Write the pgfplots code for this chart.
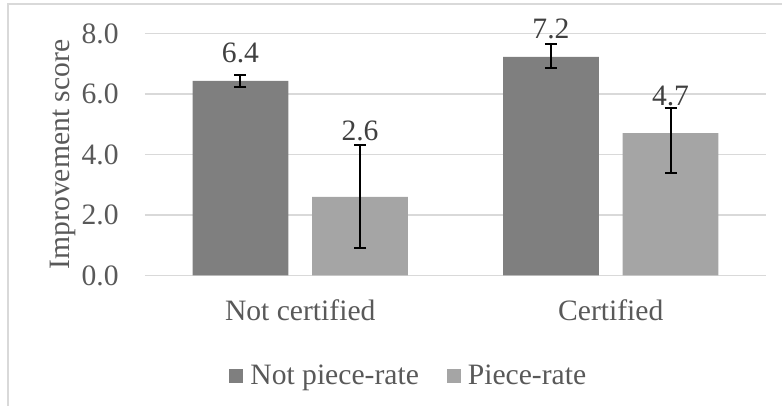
\documentclass[border=0pt]{standalone}
\usepackage{fontspec}
\setmainfont{Liberation Serif}
\usepackage{pgfplots}
\pgfplotsset{compat=1.18}
\definecolor{npr}{RGB}{127,127,127}
\definecolor{pr}{RGB}{165,165,165}
\definecolor{txt}{RGB}{89,89,89}
\definecolor{lbl}{RGB}{64,64,64}
\definecolor{gridc}{RGB}{217,217,217}
\newcommand{\fs}{\fontsize{14.8}{17.5}\selectfont}
\begin{document}
\begin{tikzpicture}
\useasboundingbox (-72.5pt,-65.25pt) rectangle (318.5pt,137.75pt);
\draw[gridc, line width=1pt] (-68.35pt,-80pt) -- (-68.35pt,135.5pt) -- (330pt,135.5pt);
\begin{axis}[
  at={(0,0)}, anchor=south west,
  width=310.5pt, height=121pt, scale only axis,
  clip=false,
  ybar,
  xmin=-0.5, xmax=1.5, ymin=0, ymax=8,
  ytick={0,2,4,6,8}, xtick={0,1}, xticklabels={Not certified, Certified},
  ymajorgrids, grid style={color=gridc, line width=0.9pt},
  axis line style={draw=none},
  major tick length=0pt,
  tick label style={font=\fs, text=txt},
  /pgf/number format/assume math mode=true,
  yticklabel style={/pgf/number format/fixed, /pgf/number format/fixed zerofill, /pgf/number format/precision=1, anchor=east, inner sep=0pt, xshift=-13pt},
  xticklabel style={anchor=base, inner sep=0pt, yshift=-22.5pt},
  ylabel={Improvement score},
  ylabel style={at={(axis description cs:-0.1329,0.5)}, anchor=center, font=\fs, text=txt},
  legend columns=2,
  legend image code/.code={\fill[#1] (0pt,-3.5pt) rectangle (7pt,3.5pt);},
  legend style={draw=none, fill=none, at={(axis description cs:0.1353,-0.417)}, anchor=west,
    font=\fs, text=txt, inner sep=0pt, nodes={inner sep=0pt},
    /tikz/every odd column/.append style={column sep=3.5pt},
    /tikz/every even column/.append style={column sep=14pt}},
]
\addplot[fill=npr, draw=none, bar width=0.309, bar shift=-0.1925,
  error bars/.cd, y dir=both, y explicit,
  error bar style={black, line width=1pt},
  error mark options={rotate=90, mark size=3pt, line width=1pt, black}]
  table[x=x, y=y, y error plus=ep, y error minus=em] {
x y ep em
0 6.43 0.21 0.21
1 7.23 0.41 0.38
};
\addlegendentry{Not piece-rate}
\addplot[fill=pr, draw=none, bar width=0.309, bar shift=0.1925,
  error bars/.cd, y dir=both, y explicit,
  error bar style={black, line width=1pt},
  error mark options={rotate=90, mark size=3pt, line width=1pt, black}]
  table[x=x, y=y, y error plus=ep, y error minus=em] {
x y ep em
0 2.60 1.70 1.70
1 4.71 0.82 1.31
};
\addlegendentry{Piece-rate}
\node[anchor=base, inner sep=0pt, font=\fs, text=lbl] at (axis cs:-0.1925,7.025) {6.4};
\node[anchor=base, inner sep=0pt, font=\fs, text=lbl] at (axis cs:0.1925,4.479) {2.6};
\node[anchor=base, inner sep=0pt, font=\fs, text=lbl] at (axis cs:0.8075,7.851) {7.2};
\node[anchor=base, inner sep=0pt, font=\fs, text=lbl] at (axis cs:1.1925,5.636) {4.7};
\end{axis}
\end{tikzpicture}
\end{document}
